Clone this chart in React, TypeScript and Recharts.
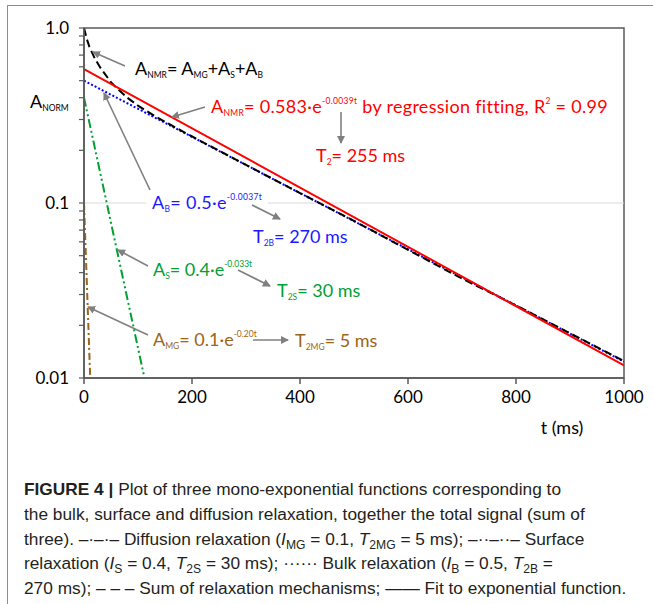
import React from 'react'
import { LineChart, Line, XAxis, YAxis, ReferenceLine, ReferenceArea } from 'recharts'

// values (t in ms, normalised amplitude)
const fitT = [0, 1000]
const fitA = [0.583, 0.0118]

const bulkT = [0, 1000]
const bulkA = [0.5, 0.0124]

const surfT = [0, 112]
const surfA = [0.4, 0.01]

const diffT = [0, 11.5]
const diffA = [0.1, 0.01]

const sumT = [0, 5, 10, 20, 30, 40, 50, 60, 80, 100, 130, 160, 200, 300, 400, 500, 600, 700, 800, 900, 1000]
const sumA = [1.0, 0.87, 0.78, 0.67, 0.595, 0.54, 0.49, 0.455, 0.4, 0.36, 0.315, 0.28, 0.24, 0.165, 0.114, 0.079, 0.054, 0.037, 0.026, 0.018, 0.0125]

const xTicks = [0, 200, 400, 600, 800, 1000]
const yTicks = [0.01, 0.02, 0.03, 0.04, 0.05, 0.06, 0.07, 0.08, 0.09, 0.1, 0.2, 0.3, 0.4, 0.5, 0.6, 0.7, 0.8, 0.9, 1]
const yLabels: Record<string, string> = { '0.01': '0.01', '0.1': '0.1', '1': '1.0' }

const zip = (t: number[], a: number[]) => t.map((v, i) => ({ t: v, a: a[i] }))

const FONT = 'Lato, "Open Sans", sans-serif'
const CAP = '"Liberation Sans", Arial, sans-serif'
const AXIS = '#595959'
const ARROW = '#808080'
const RED = '#ff0000'
const BLUE = '#1a1aff'
const GREEN = '#00a032'
const BROWN = '#9c6418'

type Seg = [string, 'n' | 'sub' | 'sup']

function Rich({ x, y, segs, fill, size = 18, spacing = 0 }: { x: number; y: number; segs: Seg[]; fill: string; size?: number; spacing?: number }) {
  return (
    <text x={x} y={y} fill={fill} fontSize={size} fontFamily={FONT} letterSpacing={spacing}>
      {segs.map(([s, k], i) => {
        if (k === 'sub') return <tspan key={i} y={y + 3} fontSize={8.5}>{s}</tspan>
        if (k === 'sup') return <tspan key={i} y={y - 9} fontSize={8.5}>{s}</tspan>
        return <tspan key={i} y={y}>{s}</tspan>
      })}
    </text>
  )
}

function Arrow({ x1, y1, x2, y2 }: { x1: number; y1: number; x2: number; y2: number }) {
  return <line x1={x1} y1={y1} x2={x2} y2={y2} stroke={ARROW} strokeWidth={1.6} markerEnd="url(#head)" />
}

function YTick(props: any) {
  const { x, y, payload } = props
  const lab = yLabels[String(payload.value)]
  if (!lab) return null
  return (
    <text x={x} y={y} dy={6} textAnchor="end" fontSize={17} fontFamily={FONT} fill="#000">
      {lab}
    </text>
  )
}

function XTick(props: any) {
  const { x, y, payload } = props
  return (
    <text x={x} y={y} dy={15} textAnchor="middle" fontSize={17} fontFamily={FONT} fill="#000">
      {payload.value}
    </text>
  )
}

function Sub({ children }: { children: React.ReactNode }) {
  return <span style={{ fontSize: '0.7em', position: 'relative', top: 4, lineHeight: 0 }}>{children}</span>
}

export default function App() {
  return (
    <div style={{ position: 'absolute', left: 0, top: 0, width: 653, height: 604, background: '#fff', overflow: 'hidden' }}>
      <div style={{ position: 'absolute', left: 7, top: 5, width: 660, height: 620, borderTop: '1.5px solid #8c8c8c', borderLeft: '1.5px solid #8c8c8c' }} />

      <div style={{ position: 'absolute', left: 0, top: 0 }}>
        <LineChart width={653} height={440} margin={{ top: 28, right: 29, left: 24, bottom: 32 }}>
          <ReferenceArea x1={0} x2={1000} y1={0.01} y2={1} fill="none" stroke={AXIS} strokeWidth={1.5} ifOverflow="visible" />
          <ReferenceLine y={0.1} stroke="#d9d9d9" strokeWidth={1.2} />
          <XAxis
            type="number"
            dataKey="t"
            domain={[0, 1000]}
            ticks={xTicks}
            interval={0}
            allowDataOverflow
            height={30}
            tickSize={6}
            tickMargin={4}
            tick={<XTick />}
            axisLine={{ stroke: AXIS, strokeWidth: 1.5 }}
            tickLine={{ stroke: AXIS, strokeWidth: 1.5 }}
          />
          <YAxis
            type="number"
            scale="log"
            domain={[0.01, 1]}
            ticks={yTicks}
            interval={0}
            allowDataOverflow
            width={60}
            tickSize={5}
            tickMargin={10}
            tick={<YTick />}
            axisLine={{ stroke: AXIS, strokeWidth: 1.5 }}
            tickLine={{ stroke: AXIS, strokeWidth: 1.2 }}
          />
          <Line data={zip(surfT, surfA)} dataKey="a" stroke={GREEN} strokeWidth={2} strokeDasharray="9 3 2 3 2 3" dot={false} isAnimationActive={false} />
          <Line data={zip(diffT, diffA)} dataKey="a" stroke={BROWN} strokeWidth={2} strokeDasharray="7 3 2 3" dot={false} isAnimationActive={false} />
          <Line data={zip(bulkT, bulkA)} dataKey="a" stroke="#0000ff" strokeWidth={2} strokeDasharray="2 2" dot={false} isAnimationActive={false} />
          <Line data={zip(sumT, sumA)} dataKey="a" stroke="#000" strokeWidth={2} strokeDasharray="8 4" dot={false} isAnimationActive={false} />
          <Line data={zip(fitT, fitA)} dataKey="a" stroke={RED} strokeWidth={2} dot={false} isAnimationActive={false} />
        </LineChart>
      </div>

      <svg width={653} height={440} style={{ position: 'absolute', left: 0, top: 0, pointerEvents: 'none' }}>
        <defs>
          <marker id="head" markerWidth="8" markerHeight="8" refX="7" refY="4" orient="auto" markerUnits="userSpaceOnUse">
            <path d="M0,0 L8,4 L0,8 z" fill={ARROW} />
          </marker>
        </defs>

        <Rich x={30} y={108} fill="#000" segs={[['A', 'n'], ['NORM', 'sub']]} />
        <text x={562} y={434} textAnchor="middle" fontSize={18} fontFamily={FONT} fill="#000">t (ms)</text>

        <Arrow x1={125} y1={66} x2={93} y2={52} />
        <Rich x={135} y={75} fill="#000" segs={[['A', 'n'], ['NMR', 'sub'], ['= A', 'n'], ['MG', 'sub'], ['+A', 'n'], ['S', 'sub'], ['+A', 'n'], ['B', 'sub']]} />

        <Arrow x1={205} y1={107} x2={172} y2={117} />
        <Rich x={211} y={113} fill={RED} spacing={0.3} segs={[['A', 'n'], ['NMR', 'sub'], ['= 0.583·e', 'n'], ['-0.0039t', 'sup'], [' by regression fitting, R', 'n'], ['2', 'sup'], [' = 0.99', 'n']]} />
        <Arrow x1={341} y1={112} x2={341} y2={143} />
        <Rich x={316} y={162} fill={RED} segs={[['T', 'n'], ['2', 'sub'], ['= 255 ms', 'n']]} />

        <rect x={146} y={194} width={122} height={20} fill="#fff" />
        <Arrow x1={150} y1={190} x2={104} y2={93} />
        <Rich x={152} y={209} fill={BLUE} spacing={0.3} segs={[['A', 'n'], ['B', 'sub'], ['= 0.5·e', 'n'], ['-0.0037t', 'sup']]} />
        <Arrow x1={252} y1={205} x2={280} y2={219} />
        <Rich x={253} y={243} fill={BLUE} segs={[['T', 'n'], ['2B', 'sub'], ['= 270 ms', 'n']]} />

        <Arrow x1={148} y1={266} x2={118} y2={250} />
        <Rich x={153} y={276} fill={GREEN} segs={[['A', 'n'], ['S', 'sub'], ['= 0.4·e', 'n'], ['-0.033t', 'sup']]} />
        <Arrow x1={238} y1={270} x2={270} y2={286} />
        <Rich x={277} y={297} fill={GREEN} segs={[['T', 'n'], ['2S', 'sub'], ['= 30 ms', 'n']]} />

        <Arrow x1={148} y1={335} x2={88} y2={307} />
        <Rich x={153} y={346} fill={BROWN} segs={[['A', 'n'], ['MG', 'sub'], ['= 0.1·e', 'n'], ['-0.20t', 'sup']]} />
        <Arrow x1={253} y1={340} x2={288} y2={340} />
        <Rich x={295} y={347} fill={BROWN} segs={[['T', 'n'], ['2MG', 'sub'], ['= 5 ms', 'n']]} />
      </svg>

      <div style={{ position: 'absolute', left: 24, top: 477, fontFamily: CAP, fontSize: 17.3, lineHeight: '24.8px', color: '#231f20', whiteSpace: 'nowrap' }}>
        <div><b>FIGURE 4 |</b> Plot of three mono-exponential functions corresponding to</div>
        <div>the bulk, surface and diffusion relaxation, together the total signal (sum of</div>
        <div>three). –·–·– Diffusion relaxation (<i>I</i><Sub>MG</Sub> = 0.1, <i>T</i><Sub>2MG</Sub> = 5 ms); –··–··– Surface</div>
        <div>relaxation (<i>I</i><Sub>S</Sub> = 0.4, <i>T</i><Sub>2S</Sub> = 30 ms); ······ Bulk relaxation (<i>I</i><Sub>B</Sub> = 0.5, <i>T</i><Sub>2B</Sub> =</div>
        <div>270 ms); – – – Sum of relaxation mechanisms; —— Fit to exponential function.</div>
      </div>
    </div>
  )
}
